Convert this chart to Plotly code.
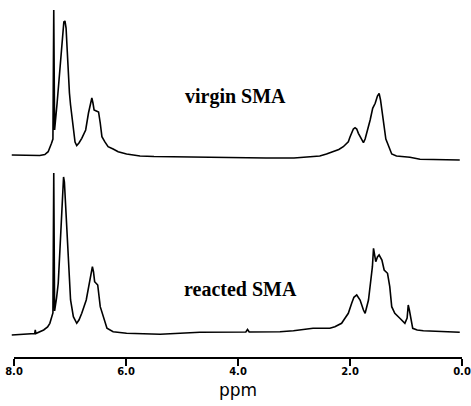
import plotly.graph_objects as go

# 1H NMR spectra (chemical shift in ppm, relative intensity)
virgin_ppm = [8.04, 7.80, 7.54, 7.45, 7.39, 7.33, 7.305, 7.29, 7.275, 7.23, 7.18, 7.13,
              7.11, 7.09, 7.07, 7.05, 7.03, 7.01, 6.99, 6.97, 6.94, 6.91, 6.88, 6.84,
              6.79, 6.72, 6.67, 6.64, 6.61, 6.59, 6.57, 6.53, 6.49, 6.46, 6.43, 6.38,
              6.32, 6.23, 6.14, 5.99, 5.75, 5.5, 5.0, 4.5, 4.0, 3.5, 3.0, 2.89, 2.7,
              2.54, 2.42, 2.30, 2.20, 2.12, 2.06, 2.03, 2.00, 1.97, 1.94, 1.91, 1.88,
              1.85, 1.80, 1.76, 1.73, 1.70, 1.67, 1.64, 1.595, 1.55, 1.51, 1.48, 1.455,
              1.43, 1.39, 1.36, 1.33, 1.29, 1.255, 1.17, 1.05, 0.93, 0.75, 0.5, 0.04]
virgin_int = [5, 5, 4.5, 5.5, 8.3, 16.7, 21, 150, 30, 57, 93, 127,
              138, 139, 132, 110, 85, 67, 55, 45, 27, 18, 14.5, 17,
              21.7, 30, 47, 56, 62, 57, 50, 49, 48, 37, 23.3, 18.3,
              13.3, 11, 8.3, 6, 4, 3.5, 3, 2.5, 2, 2, 2, 2.3, 3,
              4, 6, 8.3, 10.5, 13.3, 16, 18.3, 23, 26.7, 31, 32.3, 31,
              26.7, 21, 17.3, 21, 26.7, 34, 40, 51.7, 56.7, 64, 66.7, 60,
              50, 30, 21, 16.7, 11, 6, 4, 3.5, 2.7, 0.7, 0.3, 0]

reacted_ppm = [8.04, 7.80, 7.63, 7.62, 7.61, 7.47, 7.40, 7.36, 7.32, 7.305, 7.29, 7.275,
               7.24, 7.21, 7.18, 7.15, 7.13, 7.115, 7.10, 7.08, 7.06, 7.03, 6.99, 6.94,
               6.88, 6.84, 6.79, 6.71, 6.67, 6.63, 6.60, 6.58, 6.56, 6.53, 6.505, 6.46,
               6.40, 6.34, 6.23, 5.99, 5.39, 4.68, 3.86, 3.83, 3.80, 3.25, 3.01, 2.77,
               2.66, 2.54, 2.36, 2.27, 2.15, 2.09, 2.03, 1.97, 1.93, 1.88, 1.82, 1.76,
               1.73, 1.67, 1.63, 1.60, 1.58, 1.56, 1.54, 1.51, 1.48, 1.43, 1.39, 1.33,
               1.29, 1.255, 1.20, 1.11, 1.02, 0.98, 0.96, 0.94, 0.92, 0.88, 0.80, 0.69, 0.04]
reacted_int = [-2, -1.5, -0.5, 3, -0.5, 3, 6, 9.7, 17, 20, 160, 22,
               35, 49.7, 83, 116.3, 143, 156, 151, 128, 99.7, 66.3, 33, 16.3,
               9.7, 13, 19.7, 33, 46.3, 59.7, 66.3, 61, 51.3, 49.5, 48, 26.3,
               16.3, 4.7, 1.3, -0.3, -1.3, 0.7, 1, 3.5, 1, 1.3, 2.3, 4,
               4.7, 4.7, 4.7, 6.3, 9.7, 14.7, 19.7, 29.7, 35.7, 38, 33, 23,
               19.7, 33, 49.7, 66.3, 84.7, 76, 71.3, 76, 78, 73, 63, 59.7,
               46.3, 26.3, 19.7, 14.7, 9.7, 15, 28, 23, 16.3, 4.7, 3, 2.3, 0.7]

tick_vals = [8, 6, 4, 2, 0]
tick_text = ["8.0", "6.0", "4.0", "2.0", "0.0"]

# vertical stacking of the two traces
VIRGIN_OFFSET = 198
REACTED_OFFSET = 25

fig = go.Figure()
fig.add_trace(go.Scatter(
    x=virgin_ppm, y=[v + VIRGIN_OFFSET for v in virgin_int],
    mode="lines", line=dict(color="black", width=1.6), showlegend=False))
fig.add_trace(go.Scatter(
    x=reacted_ppm, y=[v + REACTED_OFFSET for v in reacted_int],
    mode="lines", line=dict(color="black", width=1.6), showlegend=False))

serif = dict(family="Liberation Serif", size=20, color="black", weight="bold")
fig.add_annotation(x=4.04, y=262, text="virgin SMA", showarrow=False, font=serif)
fig.add_annotation(x=3.96, y=69, text="reacted SMA", showarrow=False, font=serif)

# ppm scale bar
fig.add_shape(type="line", x0=8, x1=0, y0=0, y1=0, xref="x", yref="paper",
              line=dict(color="black", width=2))
fig.add_annotation(x=4, y=-0.09, xref="x", yref="paper", text="ppm",
                   showarrow=False, yanchor="middle",
                   font=dict(family="DejaVu Sans", size=17, color="black"))

fig.update_layout(
    width=471, height=406,
    margin=dict(l=10, r=8, t=0, b=48),
    paper_bgcolor="white", plot_bgcolor="white",
    xaxis=dict(range=[8.0714, -0.0179], tickvals=tick_vals, ticktext=tick_text,
               ticks="outside", ticklen=7, tickwidth=1.5, tickcolor="black",
               ticklabelstandoff=-3,
               showgrid=False, zeroline=False, showline=False,
               tickfont=dict(family="DejaVu Sans", size=10, color="black",
                             weight="bold")),
    yaxis=dict(range=[0, 358], visible=False),
)

fig.write_html("out.html")
